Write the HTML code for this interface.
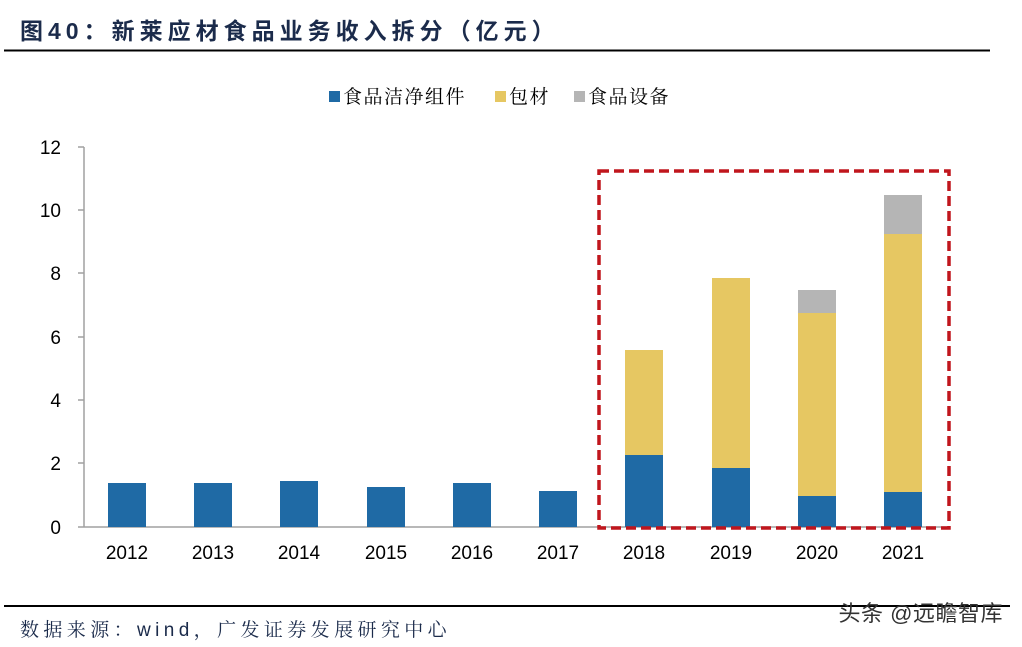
<!DOCTYPE html>
<html><head><meta charset="utf-8"><style>
html,body{margin:0;padding:0;background:#fff;}
body{width:1022px;height:647px;overflow:hidden;position:relative;font-family:"Liberation Sans","Noto Sans CJK SC",sans-serif;}
</style></head><body>
<svg width="1022" height="647" xmlns="http://www.w3.org/2000/svg" style="position:absolute;left:0;top:0">
<text x="20" y="39" font-size="23" font-weight="bold" fill="#1b2b4b" letter-spacing="5" font-family="Liberation Sans, Noto Sans CJK SC, sans-serif">图40：新莱应材食品业务收入拆分（亿元）</text>
<line x1="4" y1="50.5" x2="990" y2="50.5" stroke="#000" stroke-width="2"/>
<g font-family="Noto Serif CJK SC, serif" font-size="19" fill="#000" letter-spacing="1.5">
<rect x="329" y="91" width="11" height="11" fill="#1f6aa5"/><text x="343" y="103">食品洁净组件</text>
<rect x="495" y="91" width="11" height="11" fill="#e6c762"/><text x="509" y="103">包材</text>
<rect x="574" y="91" width="11" height="11" fill="#b5b5b5"/><text x="588" y="103">食品设备</text>
</g>
<line x1="84" y1="147" x2="84" y2="527" stroke="#a0a0a0" stroke-width="1.5"/>
<line x1="78" y1="527" x2="950" y2="527" stroke="#a0a0a0" stroke-width="1.5"/>
<g stroke="#a0a0a0" stroke-width="1.5">
<line x1="78" y1="147" x2="84" y2="147"/><line x1="78" y1="210" x2="84" y2="210"/><line x1="78" y1="273" x2="84" y2="273"/><line x1="78" y1="337" x2="84" y2="337"/><line x1="78" y1="400" x2="84" y2="400"/><line x1="78" y1="463" x2="84" y2="463"/>
</g>
<g font-size="19" fill="#000" text-anchor="end">
<text x="61" y="154">12</text><text x="61" y="217">10</text><text x="61" y="280">8</text><text x="61" y="344">6</text><text x="61" y="407">4</text><text x="61" y="470">2</text><text x="61" y="534">0</text>
</g>
<g fill="#1f6aa5">
<rect x="108" y="483" width="38" height="44"/><rect x="194" y="483" width="38" height="44"/><rect x="280" y="481" width="38" height="46"/><rect x="367" y="487" width="38" height="40"/><rect x="453" y="483" width="38" height="44"/><rect x="539" y="491" width="38" height="36"/>
<rect x="625" y="455" width="38" height="72"/><rect x="712" y="468" width="38" height="59"/><rect x="798" y="496" width="38" height="31"/><rect x="884" y="492" width="38" height="35"/>
</g>
<g fill="#e6c762">
<rect x="625" y="350" width="38" height="105"/><rect x="712" y="278" width="38" height="190"/><rect x="798" y="313" width="38" height="183"/><rect x="884" y="234" width="38" height="258"/>
</g>
<g fill="#b5b5b5">
<rect x="798" y="290" width="38" height="23"/><rect x="884" y="195" width="38" height="39"/>
</g>
<g font-size="19" fill="#000" text-anchor="middle">
<text x="127" y="559">2012</text><text x="213" y="559">2013</text><text x="299" y="559">2014</text><text x="386" y="559">2015</text><text x="472" y="559">2016</text><text x="558" y="559">2017</text><text x="644" y="559">2018</text><text x="731" y="559">2019</text><text x="817" y="559">2020</text><text x="903" y="559">2021</text>
</g>
<rect x="599" y="171" width="350" height="357" fill="none" stroke="#c0161d" stroke-width="3.5" stroke-dasharray="10,5"/>
<line x1="4" y1="606" x2="1010" y2="606" stroke="#000" stroke-width="2"/>
<text x="20" y="636" font-size="19" fill="#1b2b4b" letter-spacing="4.4" font-family="Liberation Sans, Noto Serif CJK SC, serif">数据来源：wind，广发证券发展研究中心</text>
<text x="1003" y="621" font-size="22" fill="#333" text-anchor="end" letter-spacing="0.5" font-family="Liberation Sans, Noto Sans CJK SC, sans-serif">头条 @远瞻智库</text>
</svg>
</body></html>
